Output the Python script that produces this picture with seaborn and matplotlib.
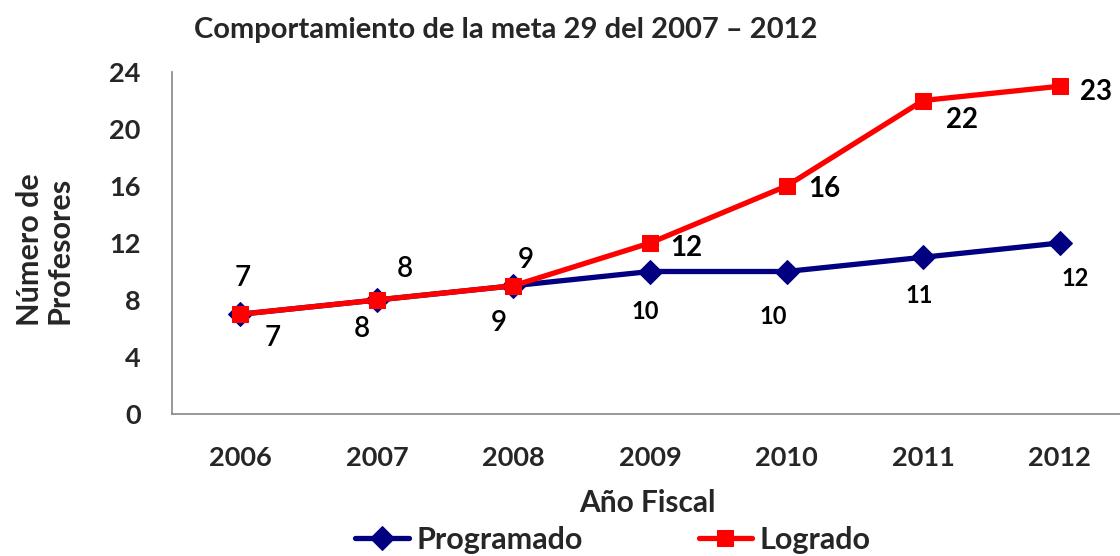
import matplotlib
matplotlib.use("Agg")
import matplotlib.pyplot as plt
import pandas as pd
import seaborn as sns

years = ["2006", "2007", "2008", "2009", "2010", "2011", "2012"]
programado = [7, 8, 9, 10, 10, 11, 12]
logrado = [7, 8, 9, 12, 16, 22, 23]

# label offsets in pixels (dx, dy), picked to sit like the original
prog_offsets = [(32, -24), (-15, -29), (-15, -37), (-5, -40), (-13, -45), (-4, -38), (16, -35)]
logr_offsets = [(2, 36), (28, 31), (12, 26), (36, -5), (38, -3), (39, -20), (36, -6)]

sns.set_theme(style="white")
plt.rcParams['font.family'] = ['Lato', 'DejaVu Sans']
plt.rcParams['font.weight'] = 'bold'

df = pd.DataFrame({"Año": years, "Programado": programado, "Logrado": logrado})

fig = plt.figure(figsize=(11.2, 5.56), dpi=100)
ax = fig.add_axes([172 / 1120, 1 - 414 / 556, 956 / 1120, 342 / 556])

BLUE = "#000080"
RED = "#FF0000"

sns.lineplot(data=df, x="Año", y="Programado", ax=ax, color=BLUE, lw=3.8,
             marker="D", markersize=12, markeredgecolor=BLUE, label="Programado", sort=False)
sns.lineplot(data=df, x="Año", y="Logrado", ax=ax, color=RED, lw=3.8,
             marker="s", markersize=12, markeredgecolor=RED, label="Logrado", sort=False)

for i, v in enumerate(programado):
    dx, dy = prog_offsets[i]
    fs = 17 if i >= 3 else 20
    fw = 'bold' if i >= 3 else 'semibold'
    ax.annotate(str(v), (i, v), xytext=(dx, dy), textcoords="offset pixels",
                ha="center", va="center", fontsize=fs, fontweight=fw, color="black")
for i, v in enumerate(logrado):
    dx, dy = logr_offsets[i]
    fw = 'bold' if i >= 3 else 'semibold'
    ax.annotate(str(v), (i, v), xytext=(dx, dy), textcoords="offset pixels",
                ha="center", va="center", fontsize=20, fontweight=fw, color="black")

ax.set_xlim(-0.5, 6.5)
ax.set_ylim(0, 24)
ax.set_yticks(range(0, 25, 4))
ax.set_xticks(range(len(years)))
ax.set_xticklabels(years)
ax.set_xticks([i + 0.5 for i in range(-1, len(years))], minor=True)
ax.tick_params(axis="x", which="major", length=0, pad=23, labelsize=19.5)
ax.tick_params(axis="x", which="minor", length=7.5, width=1.2, color="#868686", direction="out")
ax.tick_params(axis="y", length=7.5, width=1.2, color="#868686", direction="out", labelsize=19.5, pad=15)
for lab in ax.get_xticklabels() + ax.get_yticklabels():
    lab.set_fontweight("bold")

for s in ["top", "right"]:
    ax.spines[s].set_visible(False)
for s in ["left", "bottom"]:
    ax.spines[s].set_color("#868686")
    ax.spines[s].set_linewidth(1.2)

ax.set_xlabel("")
ax.set_ylabel("")
fig.text(647 / 1120, 1 - 503 / 556, "Año Fiscal", ha="center", va="center", fontsize=21.5, fontweight="bold")
fig.text(45 / 1120, 1 - 250 / 556, "Número de\nProfesores", ha="center", va="center", rotation=90,
         fontsize=22, fontweight="bold", linespacing=1.05)
fig.text(506 / 1120, 1 - 30 / 556, "Comportamiento de la meta 29 del 2007 – 2012", ha="center", va="center",
         fontsize=21, fontweight="bold")

ax.legend_.remove()
handles, labels = ax.get_legend_handles_labels()
fig.legend(handles, labels, loc="center", bbox_to_anchor=(613 / 1120, 1 - 540 / 556), ncol=2, frameon=False,
           prop={"size": 22, "weight": "bold"}, handlelength=1.75, handletextpad=0.25, columnspacing=3.8,
           borderpad=0)

fig.savefig("out.png", dpi=100)
